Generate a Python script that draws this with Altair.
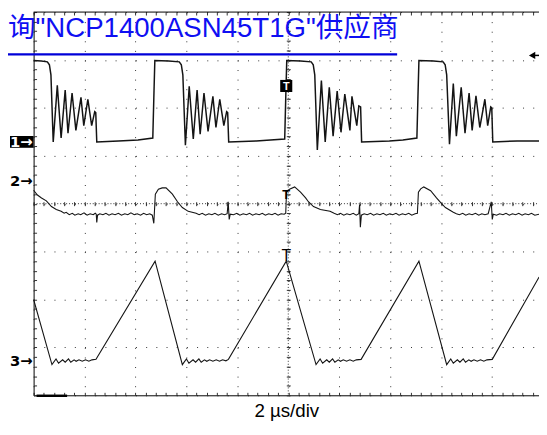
import altair as alt
import pandas as pd

# ---------------- text ----------------
title_text = '询"NCP1400ASN45T1G"供应商'
x_title = "2 µs/div"
channel_labels = ["1→", "2→", "3→"]
channel_offsets = [5.29, 4.47, 0.71]      # ground markers, in divisions
trigger_time = [9.92]                     # µs

# ---------------- traces (time µs, level in divisions) ----------------
ch1_points = [
    (0.00, 6.99), (0.30, 6.98), (0.54, 6.96), (0.62, 6.90), (0.68, 6.69), (0.77, 5.29),
    (0.93, 6.47), (1.08, 5.37), (1.24, 6.37), (1.35, 5.47), (1.51, 6.31), (1.66, 5.53),
    (1.86, 6.22), (1.97, 5.63), (2.13, 6.18), (2.28, 5.63), (2.40, 5.92), (2.44, 5.90), (2.48, 5.29),
    (3.33, 5.31), (4.10, 5.33), (4.68, 5.37), (4.72, 6.20), (4.76, 6.99), (5.30, 6.98),
    (5.72, 6.96), (5.80, 6.90), (5.86, 6.69), (5.96, 5.22),
    (6.11, 6.45), (6.27, 5.35), (6.42, 6.37), (6.54, 5.45), (6.69, 6.31), (6.85, 5.51),
    (7.04, 6.24), (7.16, 5.59), (7.31, 6.18), (7.47, 5.63), (7.58, 5.92), (7.62, 5.90), (7.66, 5.29),
    (8.74, 5.31), (9.30, 5.33), (9.86, 5.35), (9.90, 6.20), (9.94, 6.99), (10.48, 6.98),
    (10.90, 6.96), (10.98, 6.90), (11.04, 6.69), (11.14, 5.12),
    (11.30, 6.57), (11.45, 5.29), (11.61, 6.43), (11.76, 5.41), (11.92, 6.35), (12.07, 5.49),
    (12.22, 6.29), (12.42, 5.53), (12.50, 6.24), (12.69, 5.63), (12.77, 6.04), (12.84, 6.02), (12.88, 5.29),
    (13.97, 5.31), (14.50, 5.33), (15.05, 5.37), (15.09, 6.20), (15.13, 6.99), (15.70, 6.98),
    (16.08, 6.96), (16.16, 6.90), (16.22, 6.69), (16.33, 5.24),
    (16.48, 6.51), (16.60, 5.41), (16.79, 6.43), (16.94, 5.47), (17.10, 6.31), (17.22, 5.53),
    (17.37, 6.25), (17.52, 5.59), (17.72, 6.18), (17.83, 5.63), (17.95, 6.02), (17.99, 6.00), (18.03, 5.29),
    (18.99, 5.31), (19.85, 5.31),
]

ch2_points = [
    (0.00, 4.28), (0.15, 4.18), (0.31, 4.12), (0.50, 4.06), (0.70, 3.94), (0.89, 3.88), (1.08, 3.84),
    (1.20, 3.80), (1.28, 3.82), (1.40, 3.77), (1.52, 3.80), (1.62, 3.76), (1.75, 3.79), (1.85, 3.77),
    (1.98, 3.81), (2.10, 3.76), (2.22, 3.79), (2.34, 3.77), (2.42, 3.80), (2.46, 3.78), (2.48, 3.61),
    (2.51, 3.76), (2.60, 3.79), (2.72, 3.77), (2.84, 3.80), (2.96, 3.76), (3.08, 3.79), (3.20, 3.77),
    (3.33, 3.80), (3.45, 3.76), (3.58, 3.79), (3.70, 3.77), (3.82, 3.81), (3.95, 3.77), (4.07, 3.79),
    (4.20, 3.76), (4.32, 3.80), (4.44, 3.77), (4.56, 3.79), (4.66, 3.76), (4.72, 3.59), (4.78, 4.20),
    (4.90, 4.30), (5.05, 4.33), (5.20, 4.33), (5.45, 4.20), (5.65, 4.04), (5.84, 3.92), (6.07, 3.84),
    (6.38, 3.80), (6.50, 3.77), (6.62, 3.80), (6.75, 3.76), (6.88, 3.79), (7.00, 3.77), (7.12, 3.80),
    (7.25, 3.76), (7.38, 3.79), (7.50, 3.77), (7.60, 3.79), (7.64, 4.04), (7.68, 3.67), (7.72, 3.78),
    (7.85, 3.77), (7.98, 3.80), (8.10, 3.76), (8.23, 3.79), (8.36, 3.77), (8.48, 3.80), (8.60, 3.76),
    (8.73, 3.79), (8.86, 3.77), (8.98, 3.80), (9.10, 3.76), (9.23, 3.79), (9.36, 3.77), (9.48, 3.80),
    (9.60, 3.76), (9.72, 3.79), (9.84, 3.78), (9.90, 3.80), (9.93, 4.24), (10.05, 4.30), (10.25, 4.35),
    (10.48, 4.24), (10.68, 4.12), (10.79, 4.04), (10.99, 3.94), (11.26, 3.88), (11.64, 3.84), (11.80, 3.80),
    (11.93, 3.77), (12.05, 3.80), (12.18, 3.76), (12.30, 3.79), (12.42, 3.77), (12.55, 3.80), (12.67, 3.76),
    (12.77, 3.79), (12.80, 3.98), (12.83, 3.51), (12.87, 3.76), (12.98, 3.79), (13.10, 3.77), (13.23, 3.80),
    (13.35, 3.76), (13.48, 3.79), (13.60, 3.77), (13.73, 3.80), (13.85, 3.76), (13.98, 3.79), (14.10, 3.77),
    (14.23, 3.80), (14.35, 3.76), (14.48, 3.79), (14.60, 3.77), (14.73, 3.80), (14.85, 3.76), (14.98, 3.79),
    (15.07, 3.80), (15.11, 4.24), (15.20, 4.31), (15.32, 4.35), (15.59, 4.27), (15.82, 4.12), (16.02, 4.00),
    (16.17, 3.92), (16.48, 3.82), (16.60, 3.79), (16.72, 3.77), (16.85, 3.80), (16.97, 3.76), (17.10, 3.79),
    (17.22, 3.77), (17.35, 3.80), (17.48, 3.76), (17.60, 3.79), (17.72, 3.77), (17.85, 3.79), (17.97, 4.04),
    (18.01, 3.67), (18.05, 3.78), (18.18, 3.76), (18.30, 3.79), (18.43, 3.77), (18.55, 3.80), (18.68, 3.76),
    (18.80, 3.79), (18.93, 3.77), (19.05, 3.80), (19.18, 3.76), (19.30, 3.79), (19.43, 3.77), (19.55, 3.80),
    (19.68, 3.76), (19.85, 3.78),
]

ch3_points = [
    (0.00, 2.00), (0.72, 0.64), (0.88, 0.76), (0.98, 0.67), (1.14, 0.74), (1.24, 0.69), (1.37, 0.76),
    (1.46, 0.69), (1.59, 0.74), (1.67, 0.71), (1.78, 0.74), (1.91, 0.71), (2.04, 0.74), (2.17, 0.71),
    (2.29, 0.74), (2.45, 0.75),
    (4.77, 2.80), (5.84, 0.64), (6.00, 0.76), (6.10, 0.67), (6.26, 0.74), (6.36, 0.69), (6.49, 0.76),
    (6.58, 0.69), (6.71, 0.74), (6.80, 0.71), (6.91, 0.74), (7.04, 0.71), (7.17, 0.74), (7.30, 0.71),
    (7.42, 0.74), (7.55, 0.72), (7.65, 0.75),
    (9.92, 2.80), (11.09, 0.64), (11.25, 0.76), (11.35, 0.67), (11.51, 0.74), (11.61, 0.69), (11.74, 0.76),
    (11.83, 0.69), (11.96, 0.74), (12.05, 0.71), (12.16, 0.74), (12.29, 0.71), (12.42, 0.74), (12.55, 0.71),
    (12.67, 0.74), (12.86, 0.75),
    (15.13, 2.80), (16.22, 0.64), (16.38, 0.76), (16.48, 0.67), (16.64, 0.74), (16.74, 0.69), (16.87, 0.76),
    (16.96, 0.69), (17.09, 0.74), (17.18, 0.71), (17.29, 0.74), (17.42, 0.71), (17.55, 0.74), (17.68, 0.71),
    (17.80, 0.74), (18.01, 0.75),
    (19.85, 2.47),
]

# ---------------- graticule ----------------
major_t = [0, 2, 4, 6, 8, 10, 12, 14, 16, 18]
major_v = [0, 1, 2, 3, 4, 5, 6, 7, 8]
minor_t = [round(0.4 * i, 2) for i in range(50)]
minor_v = [round(0.2 * i, 2) for i in range(41)]

W, H = 513, 389
T_MAX = 19.845
CENTER_X = 10 * W / T_MAX
xs = alt.Scale(domain=[0, T_MAX], nice=False, zero=False)
ys = alt.Scale(domain=[0, 8], nice=False, zero=False)

GRID = "#333333"
TRACE = "#141414"
FONT = "Liberation Sans, Arial, Noto Sans CJK SC"
MARK_FONT = "DejaVu Sans"


def ax(**kw):
    base = dict(labels=False, title=None, grid=False, ticks=False, domain=False)
    base.update(kw)
    return alt.Axis(**base)


df1 = pd.DataFrame(ch1_points, columns=["t", "v"])
df2 = pd.DataFrame(ch2_points, columns=["t", "v"])
df3 = pd.DataFrame(ch3_points, columns=["t", "v"])

l1 = alt.Chart(df1).mark_line(color=TRACE, strokeWidth=1.5).encode(
    x=alt.X("t:Q", scale=xs, axis=ax(
        orient="bottom", values=major_t, grid=True, gridDash=[1, 8.725], gridColor=GRID,
        gridWidth=1, domain=True, domainColor="black", domainWidth=1,
        title=x_title, titleFont=FONT, titleFontSize=19, titleFontWeight="normal",
        titleColor="black", titleY=22, titleBaseline="alphabetic")),
    y=alt.Y("v:Q", scale=ys, axis=ax(
        orient="left", values=major_v, grid=True, gridDash=[1, 9.34], gridColor=GRID,
        gridWidth=1, domain=True, domainColor="black", domainWidth=1)),
)

l2 = alt.Chart(df2).mark_line(color=TRACE, strokeWidth=1.1).encode(
    x=alt.X("t:Q", scale=xs, axis=ax(
        orient="bottom", offset=-H, values=minor_t, ticks=True, tickSize=3, tickColor=GRID)),
    y=alt.Y("v:Q", scale=ys, axis=ax(
        orient="right", offset=-W, values=minor_v, ticks=True, tickSize=3, tickColor=GRID)),
)

l3 = alt.Chart(df3).mark_line(color=TRACE, strokeWidth=1.1).encode(
    x=alt.X("t:Q", scale=xs, axis=ax(
        orient="top", offset=-H, values=minor_t, ticks=True, tickSize=3, tickColor=GRID)),
    y=alt.Y("v:Q", scale=ys, axis=ax(
        orient="left", offset=-(CENTER_X + 2), values=minor_v, ticks=True, tickSize=4,
        tickColor=GRID)),
)

trig = pd.DataFrame({"t": trigger_time, "label": ["T"]})
trig_box = alt.Chart(trig).mark_point(shape="square", filled=True, size=150, color="black",
                                      opacity=1).encode(
    x=alt.X("t:Q", scale=xs, axis=ax(
        orient="bottom", offset=-(H / 2 + 2), values=minor_t, ticks=True, tickSize=4,
        tickColor=GRID)),
    y=alt.value(75),
)
trig_text = alt.Chart(trig).mark_text(font=FONT, fontSize=11, fontWeight="bold", color="white",
                                      baseline="middle").encode(
    x=alt.X("t:Q", scale=xs, axis=None), y=alt.value(76), text="label:N")
trig2 = alt.Chart(trig).mark_text(font=FONT, fontSize=13, fontWeight="bold", color="black",
                                  baseline="middle").encode(
    x=alt.X("t:Q", scale=xs, axis=None), y=alt.value(186), text="label:N")
trig3 = alt.Chart(trig).mark_text(font=FONT, fontSize=16, color="black",
                                  baseline="alphabetic").encode(
    x=alt.X("t:Q", scale=xs, axis=None), y=alt.value(253), text="label:N")

# centre cross of the graticule (finer dots) and the solid top edge
center_v = alt.Chart(trig).mark_rule(color=GRID, strokeWidth=1, strokeDash=[1, 2]).encode(
    x=alt.XDatum(10, scale=xs, axis=None), y=alt.value(0), y2=alt.value(H))
center_h = alt.Chart(trig).mark_rule(color=GRID, strokeWidth=1, strokeDash=[1, 2]).encode(
    y=alt.YDatum(4, scale=ys, axis=None), x=alt.value(0), x2=alt.value(W))
top_edge = alt.Chart(trig).mark_rule(color="black", strokeWidth=1).encode(
    y=alt.YDatum(8, scale=ys, axis=None), x=alt.value(0), x2=alt.value(W))

markers = pd.DataFrame({"label": channel_labels, "v": channel_offsets})
marker_box = alt.Chart(markers).transform_filter(alt.datum.label == "1→").mark_point(
    shape="M-1,-0.5H1V0.5H-1Z", filled=True, size=576, color="black", opacity=1).encode(
    x=alt.value(-12), y=alt.Y("v:Q", scale=ys, axis=None))
marker_text = alt.Chart(markers).mark_text(
    font=MARK_FONT, fontSize=15, fontWeight="bold", align="right", baseline="middle").encode(
    x=alt.value(-1), y=alt.Y("v:Q", scale=ys, axis=None), text="label:N",
    color=alt.condition(alt.datum.label == "1→", alt.value("white"), alt.value("black")))

title_df = pd.DataFrame({"text": [title_text]})
title = alt.Chart(title_df).mark_text(
    font=FONT, fontSize=28, color="#0f0ff2", align="left", baseline="alphabetic").encode(
    x=alt.value(-26), y=alt.value(25), text="text:N")
underline = alt.Chart(title_df).mark_rule(color="#0000d8", strokeWidth=2.2).encode(
    x=alt.value(-26), x2=alt.value(369), y=alt.value(43))

arrow = alt.Chart(title_df).mark_point(shape="triangle-left", filled=True, size=55,
                                       color="black", opacity=1).encode(
    x=alt.value(506), y=alt.value(44))
arrow_tail = alt.Chart(title_df).mark_rule(color="black", strokeWidth=1.5).encode(
    x=alt.value(506), x2=alt.value(513), y=alt.value(44))
ground_bar = alt.Chart(title_df).mark_rule(color="black", strokeWidth=2.5).encode(
    x=alt.value(3), x2=alt.value(34), y=alt.value(389.5))

chart = alt.layer(
    center_v, center_h, top_edge, l1, l2, l3, trig_box, trig_text, trig2, trig3,
    marker_box, marker_text, underline, title, arrow, arrow_tail, ground_bar,
).resolve_axis(x="independent", y="independent").properties(
    width=W, height=H,
    padding={"left": 26, "top": 1, "right": 0, "bottom": 25},
    autosize=alt.AutoSizeParams(type="none"),
    background="white",
).configure_view(stroke=None)

chart.save("out.html", embed_options={"renderer": "svg", "actions": False})
